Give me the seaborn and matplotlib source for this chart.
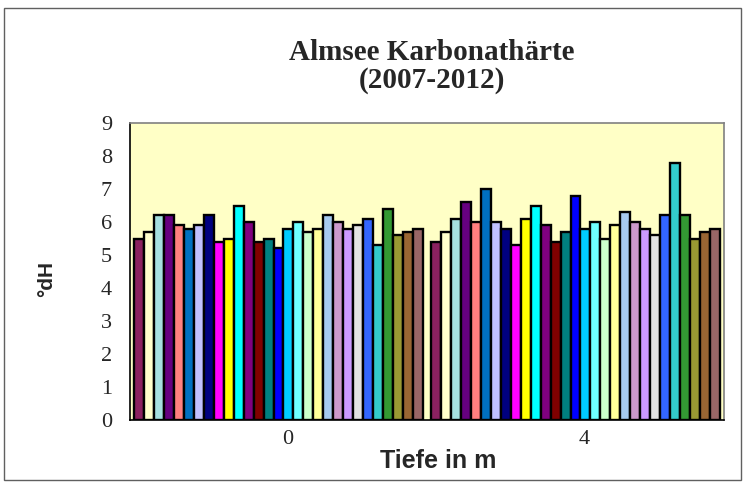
import matplotlib
matplotlib.use("Agg")
import matplotlib.pyplot as plt
import seaborn as sns
import pandas as pd
from matplotlib.patches import Rectangle

depths = ["0", "4"]
series = [f"S{i+1}" for i in range(29)]
values_0 = [5.5, 5.7, 6.2, 6.2, 5.9, 5.8, 5.9, 6.2, 5.4, 5.5, 6.5, 6.0, 5.4, 5.5, 5.2,
            5.8, 6.0, 5.7, 5.8, 6.2, 6.0, 5.8, 5.9, 6.1, 5.3, 6.4, 5.6, 5.7, 5.8]
values_4 = [5.4, 5.7, 6.1, 6.6, 6.0, 7.0, 6.0, 5.8, 5.3, 6.1, 6.5, 5.9, 5.4, 5.7, 6.8,
            5.8, 6.0, 5.5, 5.9, 6.3, 6.0, 5.8, 5.6, 6.2, 7.8, 6.2, 5.5, 5.7, 5.8]
colors = ["#8B2160", "#FFFFCC", "#A6E0E0", "#660080", "#FF8080", "#0070C0", "#C0C0FF",
          "#000080", "#FF00FF", "#FFFF00", "#00FFFF", "#800080", "#800000", "#008080",
          "#0000FF", "#00CCFF", "#6FFFFF", "#CCFFCC", "#FFFF99", "#A6CAF0", "#CC99CC",
          "#CC99FF", "#E3E3E3", "#3366FF", "#33CCCC", "#339933", "#999933", "#996633",
          "#996666"]

rows = []
for d, vals in zip(depths, [values_0, values_4]):
    for s, v in zip(series, vals):
        rows.append({"Tiefe": d, "Serie": s, "Wert": v})
df = pd.DataFrame(rows)

sns.set_style("white")
fig = plt.figure(figsize=(7.45, 4.84), dpi=100)
ax = fig.add_axes([130/745, 1-420/484, (724-130)/745, (420-123)/484])

sns.barplot(data=df, x="Tiefe", y="Wert", hue="Serie", hue_order=series, order=depths,
            palette=colors, width=0.975, gap=0, edgecolor="black", linewidth=1.7,
            saturation=1, legend=False, ax=ax, errorbar=None)

ax.set_facecolor("#FFFFC6")
ax.set_ylim(0, 9)
ax.set_xlim(-0.5, 1.5)
ax.set_yticks(range(0, 10))
serif = ["Liberation Serif", "DejaVu Serif"]
sans = ["Liberation Sans", "DejaVu Sans"]
ax.set_yticklabels([str(i) for i in range(10)], fontfamily=serif, fontsize=16)
ax.set_xticks([0.03, 1.03])
ax.set_xticklabels(depths, fontfamily=serif, fontsize=16)
ax.set_xticks([-0.5, 0.5, 1.5], minor=True)
ax.tick_params(axis="x", which="major", length=0, pad=7)
ax.tick_params(axis="x", which="minor", length=10, direction="inout", width=1, color="black")
ax.tick_params(axis="y", length=10, direction="inout", width=1, color="black", pad=8)

for side in ["top", "right"]:
    ax.spines[side].set_color("#808080")
    ax.spines[side].set_linewidth(1.2)
for side in ["left", "bottom"]:
    ax.spines[side].set_color("black")
    ax.spines[side].set_linewidth(1.2)

ax.set_xlabel("")
ax.set_ylabel("")
fig.text(438/745, 1-461/484, "Tiefe in m", ha="center", va="center",
         fontfamily=sans, fontweight="bold", fontsize=18)
fig.text(47/745, 1-279/484, "°dH", rotation=90, ha="center", va="center",
         fontfamily=sans, fontweight="bold", fontsize=15)

fig.text(432/745, 1-52/484, "Almsee Karbonathärte", ha="center", va="center",
         fontfamily=serif, fontweight="bold", fontsize=21)
fig.text(432/745, 1-81/484, "(2007-2012)", ha="center", va="center",
         fontfamily=serif, fontweight="bold", fontsize=21)

fig.patches.append(Rectangle((4/745, 1-480/484), (741-4)/745, (480-8)/484,
                             transform=fig.transFigure, fill=False,
                             edgecolor="#606060", linewidth=1))

fig.savefig("out.png", dpi=100)
